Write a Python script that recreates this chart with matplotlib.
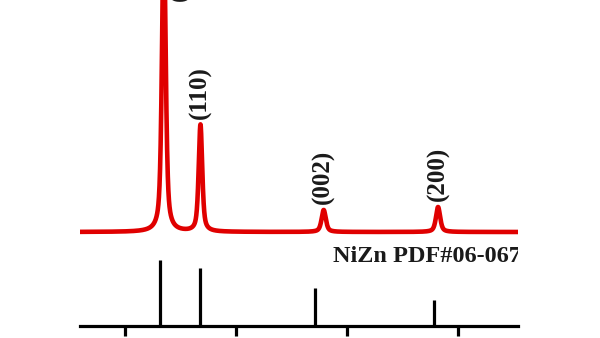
import numpy as np
import matplotlib.pyplot as plt

# measured pattern (2-theta, deg) - peak positions and intensities (a.u.)
peak_pos = [43.5, 46.8, 57.9, 68.2]
peak_int = [3000, 1070, 220, 250]
peak_fwhm = [0.4, 0.38, 0.45, 0.45]
peak_labels = ['(101)', '(110)', '(002)', '(200)']

# reference card NiZn PDF#06-0672
ref_pos = [43.2, 46.8, 57.1, 67.8]
ref_int = [100, 88, 58, 40]
ref_name = 'NiZn PDF#06-0672'

ticks = [40, 50, 60, 70]


def pseudo_voigt(x, x0, fwhm, eta=0.6):
    g = np.exp(-4 * np.log(2) * (x - x0) ** 2 / fwhm ** 2)
    l = 1.0 / (1 + 4 * (x - x0) ** 2 / fwhm ** 2)
    return eta * l + (1 - eta) * g


x = np.linspace(35, 76, 4000)
y = np.zeros_like(x)
for p, h, w in zip(peak_pos, peak_int, peak_fwhm):
    y += h * pseudo_voigt(x, p, w)

offset = 94
scale = 0.1
ref_scale = 0.66

fig = plt.figure(figsize=(6, 3.38), dpi=100)
ax = fig.add_axes([80 / 600, 12 / 338, 438 / 600, 326 / 338])

ax.plot(x, offset + scale * y, color='#e00000', lw=3.3, solid_joinstyle='round')
ax.vlines(ref_pos, 0, [r * ref_scale for r in ref_int], color='black', lw=2.3)

font = dict(family=['Liberation Serif', 'DejaVu Serif'], fontweight='bold',
            fontsize=18, color='#1a1a1a')
# labels of the visible peaks, the strongest one sits above the cropped top
for p, h, lab in zip(peak_pos[1:], peak_int[1:], peak_labels[1:]):
    ax.text(p, offset + scale * h + 6, lab, rotation=90, ha='center',
            va='bottom', clip_on=True, **font)
ax.text(45.0, 325.5, peak_labels[0], rotation=90, ha='center', va='bottom',
        **font)

ax.text(58.74, 64, ref_name, ha='left', va='baseline', clip_on=True,
        family=['Liberation Serif', 'DejaVu Serif'], fontweight='bold',
        fontsize=17.5, color='#1a1a1a')

ax.set_xlim(35.95, 75.4)
ax.set_ylim(0, 326)
for s in ['left', 'right', 'top']:
    ax.spines[s].set_visible(False)
ax.spines['bottom'].set_linewidth(2.3)
ax.set_xticks(ticks)
ax.set_yticks([])
ax.tick_params(axis='x', direction='out', length=7, width=2.3,
               labelbottom=False)

fig.savefig('out.png', dpi=100)
